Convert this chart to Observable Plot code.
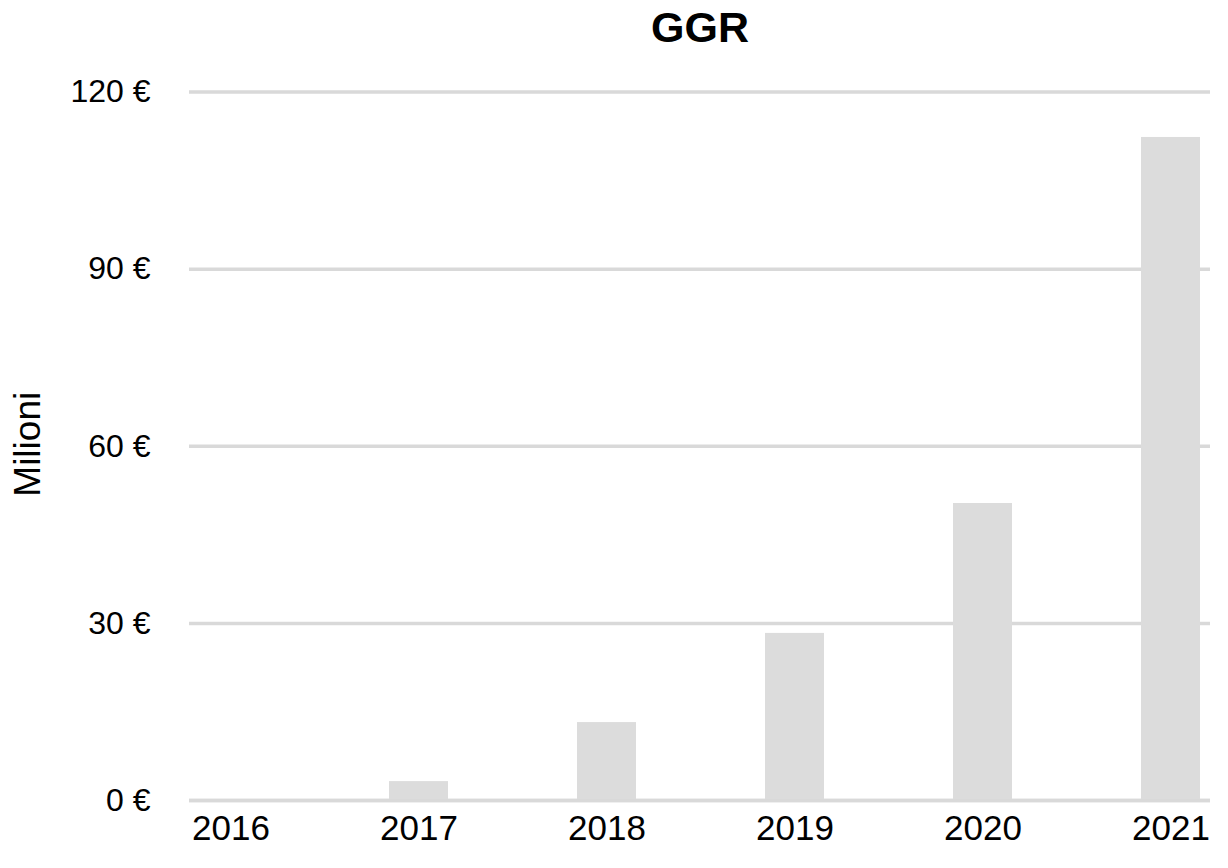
<!DOCTYPE html>
<html>
<head>
<meta charset="utf-8">
<script src="https://cdn.jsdelivr.net/npm/d3@7"></script>
<script src="https://cdn.jsdelivr.net/npm/@observablehq/plot@0.6"></script>
<style>
  html, body { margin: 0; padding: 0; background: #fff; }
  #chart svg { display: block; }
</style>
</head>
<body>
<div id="chart"></div>
<script>
const years = ["2016", "2017", "2018", "2019", "2020", "2021"];
const ggr = [0, 3.2, 13.2, 28.3, 50.3, 112.3];
const yTicks = [0, 30, 60, 90, 120];
const title = "GGR";
const yLabel = "Milioni";

const data = years.map((y, i) => ({year: y, value: ggr[i]}));

const chart = Plot.plot({
  width: 1228,
  height: 868,
  marginTop: 91.5,
  marginBottom: 68,
  marginLeft: 189,
  marginRight: 18,
  style: {fontFamily: "'Liberation Sans', Arial, sans-serif", background: "#fff", color: "#000"},
  x: {domain: years, range: [133.6, 1266.4], paddingInner: 0.6875, paddingOuter: 0.34375, label: null},
  y: {domain: [0, 120], ticks: yTicks, label: null},
  marks: [
    Plot.ruleY(yTicks, {stroke: "#d9d9d9", strokeWidth: 3.5}),
    Plot.barY(data, {x: "year", y: "value", fill: "#dcdcdc"}),
    Plot.ruleY([0], {stroke: "#d9d9d9", strokeWidth: 3.5}),
    Plot.axisY({ticks: yTicks, tickSize: 0, tickPadding: 39, tickFormat: d => d + " €", fontSize: 32, label: null}),
    Plot.axisX({tickSize: 0, tickPadding: 15, fontSize: 35, label: null}),
    Plot.text([yLabel], {frameAnchor: "left", textAnchor: "middle", rotate: -90, dx: -161, dy: -2, fontSize: 37, fill: "#000"}),
    Plot.text([title], {frameAnchor: "top", dy: -81, fontSize: 43, fontWeight: "bold", fontFamily: "'Liberation Sans', Arial, sans-serif", fill: "#000"})
  ]
});
document.getElementById("chart").appendChild(chart);
</script>
</body>
</html>
